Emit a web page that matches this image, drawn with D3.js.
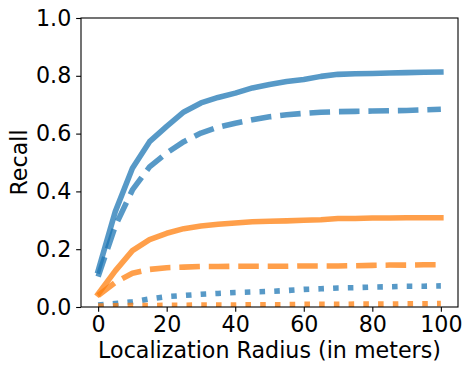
<!DOCTYPE html>
<html>
<head>
<meta charset="utf-8">
<script src="https://cdn.jsdelivr.net/npm/d3@7"></script>
<style>
  html, body { margin: 0; padding: 0; background: #fff; }
  svg { display: block; }
  text { font-family: "DejaVu Sans", sans-serif; fill: #000; }
</style>
</head>
<body>
<svg id="chart" width="472" height="372"></svg>
<script>
// ---- data ----
const radius = [0, 5, 10, 15, 20, 25, 30, 35, 40, 45, 50, 55, 60, 65, 70, 75, 80, 85, 90, 95, 100];
const blueSolid  = [0.125, 0.33, 0.48, 0.572, 0.625, 0.675, 0.706, 0.725, 0.740, 0.758, 0.770, 0.780, 0.787, 0.798, 0.805, 0.807, 0.808, 0.810, 0.811, 0.812, 0.813];
const blueDashed = [0.105, 0.28, 0.405, 0.485, 0.533, 0.572, 0.602, 0.622, 0.636, 0.648, 0.658, 0.665, 0.670, 0.674, 0.676, 0.677, 0.678, 0.679, 0.680, 0.682, 0.684];
const blueDotted = [0.007, 0.012, 0.018, 0.028, 0.036, 0.040, 0.044, 0.047, 0.050, 0.052, 0.054, 0.057, 0.061, 0.063, 0.066, 0.067, 0.069, 0.070, 0.072, 0.072, 0.073];
const orangeSolid  = [0.045, 0.125, 0.195, 0.233, 0.255, 0.271, 0.280, 0.286, 0.291, 0.295, 0.297, 0.298, 0.300, 0.302, 0.306, 0.306, 0.308, 0.308, 0.309, 0.309, 0.309];
const orangeDashed = [0.040, 0.085, 0.117, 0.130, 0.136, 0.138, 0.140, 0.140, 0.141, 0.141, 0.141, 0.141, 0.142, 0.142, 0.142, 0.143, 0.144, 0.145, 0.145, 0.146, 0.146];
const orangeDotted = [0.003, 0.004, 0.005, 0.005, 0.006, 0.006, 0.007, 0.007, 0.007, 0.008, 0.008, 0.008, 0.009, 0.009, 0.009, 0.010, 0.010, 0.010, 0.011, 0.011, 0.012];
const yTicks = [0.0, 0.2, 0.4, 0.6, 0.8, 1.0];
const xTicks = [0, 20, 40, 60, 80, 100];
const xLabel = "Localization Radius (in meters)";
const yLabel = "Recall";

// ---- layout ----
const W = 472, H = 372;
const m = { left: 81, right: 458, top: 18, bottom: 307 };
const lw = 5.56;
const blue = "#1f77b4", orange = "#ff7f0e";
const fontSize = 22.2;

const svg = d3.select("#chart");
const x = d3.scaleLinear().domain([-5, 105]).range([m.left, m.right]);
const y = d3.scaleLinear().domain([0, 1]).range([m.bottom, m.top]);

const series = [
  { vals: blueSolid,    color: blue,   dash: null },
  { vals: blueDashed,   color: blue,   dash: [3.7 * lw, 1.6 * lw] },
  { vals: blueDotted,   color: blue,   dash: [1 * lw, 1.65 * lw] },
  { vals: orangeSolid,  color: orange, dash: null },
  { vals: orangeDashed, color: orange, dash: [3.7 * lw, 1.6 * lw] },
  { vals: orangeDotted, color: orange, dash: [1 * lw, 1.65 * lw] },
];

const line = d3.line().x((d, i) => x(radius[i])).y(d => y(d));

svg.append("defs").append("clipPath").attr("id", "clip")
  .append("rect").attr("x", m.left).attr("y", m.top)
  .attr("width", m.right - m.left).attr("height", m.bottom - m.top);

const g = svg.append("g").attr("clip-path", "url(#clip)");
series.forEach(s => {
  g.append("path")
    .attr("d", line(s.vals))
    .attr("fill", "none")
    .attr("stroke", s.color)
    .attr("stroke-opacity", 0.75)
    .attr("stroke-width", lw)
    .attr("stroke-linejoin", "round")
    .attr("stroke-linecap", s.dash ? "butt" : "square")
    .attr("stroke-dasharray", s.dash ? s.dash.join(" ") : null);
});

// axes
const tickLen = 4.86, pad = 4.86;
const xAxis = d3.axisBottom(x).tickValues(xTicks).tickFormat(d3.format("d"))
  .tickSizeInner(tickLen).tickSizeOuter(0).tickPadding(pad);
const yAxis = d3.axisLeft(y).tickValues(yTicks).tickFormat(d3.format(".1f"))
  .tickSizeInner(tickLen).tickSizeOuter(0).tickPadding(pad);

const gx = svg.append("g").attr("transform", `translate(0,${m.bottom})`).call(xAxis);
const gy = svg.append("g").attr("transform", `translate(${m.left},0)`).call(yAxis);
[gx, gy].forEach(a => {
  a.select(".domain").remove();
  a.selectAll(".tick line").attr("stroke", "#000").attr("stroke-width", 1.1);
  a.selectAll(".tick text").attr("font-size", fontSize).attr("font-family", "DejaVu Sans").attr("fill", "#000");
});

// spines
svg.append("rect")
  .attr("x", m.left).attr("y", m.top)
  .attr("width", m.right - m.left).attr("height", m.bottom - m.top)
  .attr("fill", "none").attr("stroke", "#000").attr("stroke-width", 1.1);

// labels
svg.append("text")
  .attr("x", (m.left + m.right) / 2).attr("y", 358)
  .attr("text-anchor", "middle").attr("font-size", fontSize)
  .text(xLabel);
svg.append("text")
  .attr("transform", `translate(27,${(m.top + m.bottom) / 2}) rotate(-90)`)
  .attr("text-anchor", "middle").attr("font-size", fontSize)
  .text(yLabel);
</script>
</body>
</html>
